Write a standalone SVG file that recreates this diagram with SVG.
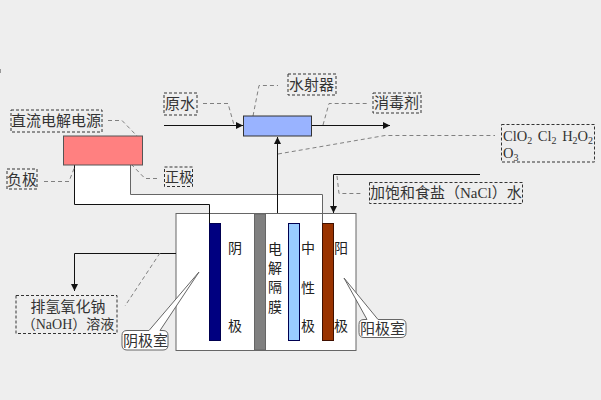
<svg xmlns="http://www.w3.org/2000/svg" width="601" height="400" viewBox="0 0 601 400">
<style>
text{font-family:"Liberation Serif","Noto Sans CJK SC",serif;font-size:15px;fill:#333;}
.s{font-size:10px;}
.box{fill:none;stroke:#333;stroke-width:1;stroke-dasharray:3 2;}
.lead{fill:none;stroke:#808080;stroke-width:1;stroke-dasharray:4 3;}
.wire{fill:none;stroke:#111;stroke-width:1;}
.call{fill:#fff;stroke:#666;stroke-width:1;}
.v{font-size:14px;fill:#222;text-anchor:middle;}
</style>
<defs>
<marker id="a" markerUnits="userSpaceOnUse" markerWidth="8" markerHeight="8" refX="7" refY="4" orient="auto"><path d="M0 0.500L7 4L0 7.500z" fill="#111"/></marker>
</defs>
<rect width="601" height="400" fill="#eee"/>
<g id="wire-fill"><path d="M75 165H131V194H323V214H210V204H75z" fill="#fff"/></g>
<g id="cell">
<rect x="176" y="213.500" width="180" height="137" fill="#fff" stroke="#666"/>
</g>
<g id="connectors">
<path class="wire" d="M74.500 165V204.500H209.500V223"/>
<path d="M130.500 165V194.500H322.500V223" fill="none" stroke="#666"/>
<path class="wire" d="M164 125.500H243" marker-end="url(#a)"/>
<path class="wire" d="M312 125.500H390" marker-end="url(#a)"/>
<path class="wire" d="M277.500 213V137" marker-end="url(#a)"/>
<path class="wire" d="M480 174.500H333.500V213" marker-end="url(#a)"/>
<path class="wire" d="M176 253.500H74.500V291" marker-end="url(#a)"/>
<path class="lead" d="M203 103.500H228L234 125"/>
<path class="lead" d="M253 116L259 85.500H278"/>
<path class="lead" d="M108 120.500H122L138 137"/>
<path class="lead" d="M44 181.500H69L75 166"/>
<path class="lead" d="M157 178.500H145L132 165"/>
<path class="lead" d="M323 125L329 103.500H367"/>
<path class="lead" d="M278 154L385 135.500H495"/>
<path class="lead" d="M337 176L339 193.500H363"/>
<path class="lead" d="M160 253L125 306"/>
</g>
<g id="membrane"><rect x="254.500" y="214" width="11" height="136" fill="#808080" stroke="#666"/>
<g><text class="v" x="275" y="254">电</text><text class="v" x="275" y="273">解</text><text class="v" x="275" y="292">隔</text><text class="v" x="275" y="312">膜</text></g></g>
<g id="cathode"><rect x="209.500" y="223.500" width="11" height="117" fill="#000080" stroke="#000050"/>
<text class="v" x="235" y="253">阴</text><text class="v" x="235" y="331">极</text></g>
<g id="neutral"><rect x="288.500" y="223.500" width="11" height="117" fill="#99ccff" stroke="#000050"/>
<text class="v" x="308" y="253">中</text><text class="v" x="308" y="293">性</text><text class="v" x="308" y="331">极</text></g>
<g id="anode"><rect x="322.500" y="223.500" width="11" height="117" fill="#993300" stroke="#401000"/>
<text class="v" x="341" y="253">阳</text><text class="v" x="341" y="331">极</text></g>
<g id="power"><rect x="63.500" y="136" width="79" height="29" fill="#ff8080" stroke="#555"/></g>
<g id="ejector"><rect x="243.500" y="116" width="68" height="20" fill="#99b3ff" stroke="#333"/></g>
<g id="label-power"><rect class="box" x="11" y="110" width="91" height="22"/><text x="11" y="126">直流电解电源</text></g>
<g id="label-raw"><rect class="box" x="164" y="93" width="33" height="22"/><text x="165" y="109">原水</text></g>
<g id="label-ejector"><rect class="box" x="288" y="74" width="48" height="21"/><text x="289" y="90">水射器</text></g>
<g id="label-disinfectant"><rect class="box" x="373" y="93" width="48" height="20"/><text x="374" y="108">消毒剂</text></g>
<g id="label-negative"><rect class="box" x="7" y="169" width="30" height="20"/><text x="7" y="185">负极</text></g>
<g id="label-positive"><rect class="box" x="164.500" y="167" width="28" height="19.500"/><text x="165" y="182" style="font-size:14px">正极</text></g>
<g id="label-products"><rect class="box" x="501.500" y="124.500" width="93" height="37.500"/>
<text x="503" y="141" style="font-size:14.500px;word-spacing:2px">ClO<tspan class="s" dy="3">2</tspan><tspan dy="-3"> Cl</tspan><tspan class="s" dy="3">2</tspan><tspan dy="-3"> H</tspan><tspan class="s" dy="3">2</tspan><tspan dy="-3">O</tspan><tspan class="s" dy="3">2</tspan></text>
<text x="503" y="158" style="font-size:14.500px">O<tspan class="s" dy="3">3</tspan></text></g>
<g id="label-salt"><rect class="box" x="369.500" y="182.500" width="153" height="21"/><text x="370" y="198">加饱和食盐（NaCl）水</text></g>
<g id="label-naoh"><rect class="box" x="16" y="295.500" width="101" height="38"/><text x="68" y="312" text-anchor="middle">排氢氧化钠</text><text x="68" y="329" text-anchor="middle" style="font-size:14px">（NaOH）溶液</text></g>
<g id="callout-cathode"><path class="call" d="M127 330.500H149L199 272L160 330.500H163Q168 330.500 168 335.500V345Q168 350 163 350H127Q122 350 122 345V335.500Q122 330.500 127 330.500z"/><text x="123" y="346">阴极室</text></g>
<g id="callout-anode"><path class="call" d="M364 319.500H367L344 278L378 319.500H401Q406 319.500 406 324.500V332.500Q406 337.500 401 337.500H364Q359 337.500 359 332.500V324.500Q359 319.500 364 319.500z"/><text x="360" y="334">阳极室</text></g>
<g id="mark"><rect x="0" y="69" width="1" height="4" fill="#999"/></g>
</svg>
